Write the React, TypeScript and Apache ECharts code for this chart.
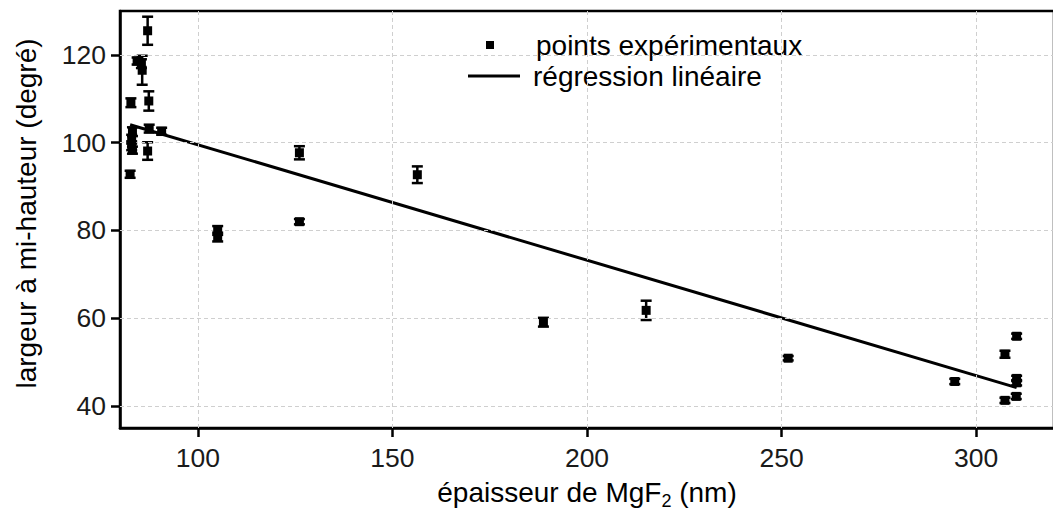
import React, { useEffect, useRef } from "react";
import * as echarts from "echarts";

// thickness of MgF2 (nm)
const thickness = [
  87.1, 84.4, 85.5, 85.7, 82.8, 87.4, 83.2, 83.0, 83.0, 83.2, 87.5, 90.7, 87.1, 82.6,
  105.1, 105.1, 126.1, 126.1, 156.4, 188.8, 215.2, 251.7,
  294.5, 307.4, 310.4, 310.4, 310.4, 307.4, 310.3,
];
// half-maximum width (degrees)
const halfWidth = [
  125.5, 118.6, 118.0, 116.5, 109.1, 109.5, 102.5, 100.8, 99.3, 98.3, 103.2, 102.6, 98.1, 92.8,
  80.0, 78.5, 97.7, 82.0, 92.7, 59.1, 61.8, 50.9,
  45.6, 51.8, 55.9, 46.3, 45.3, 41.3, 42.2,
];
// error (± degrees)
const errors = [
  3.2, 0.8, 1.0, 3.3, 1.0, 2.2, 1.0, 1.0, 1.0, 0.8, 0.9, 0.8, 2.0, 0.8,
  1.0, 1.0, 1.5, 0.6, 1.9, 1.0, 2.2, 0.5,
  0.6, 0.8, 0.6, 0.6, 0.6, 0.6, 0.6,
];
// linear regression endpoints
const regX = [82.6, 310.4];
const regY = [104.1, 44.2];

const xTicks = [100, 150, 200, 250, 300];
const yTicks = [40, 60, 80, 100, 120];

const FONT = "'Liberation Sans', Arial, Helvetica, sans-serif";
const FS = 26.5;
const FT = 28;

export default function App() {
  const ref = useRef<HTMLDivElement>(null);

  useEffect(() => {
    if (!ref.current) return;
    const chart = echarts.init(ref.current, undefined, { renderer: "svg" });

    const points = thickness.map((x, i) => [x, halfWidth[i]]);
    const bars = thickness.map((x, i) => [x, halfWidth[i] - errors[i], halfWidth[i] + errors[i]]);
    const reg = regX.map((x, i) => [x, regY[i]]);

    const gridLineStyle = { color: "#cfcfcf", type: [4, 3] as any, width: 1 };

    chart.setOption({
      animation: false,
      textStyle: { fontFamily: FONT },
      grid: {
        left: 120,
        top: 11,
        right: -1,
        bottom: 84,
        show: true,
        borderColor: "#000",
        borderWidth: 2.5,
        backgroundColor: "transparent",
        outerBoundsMode: "none",
        containLabel: false,
      },
      legend: [
        {
          data: [{ name: "points expérimentaux", icon: "rect" }],
          left: 481,
          top: 26,
          itemWidth: 8,
          itemHeight: 8,
          itemStyle: { opacity: 1, color: "#000" },
          textStyle: { fontSize: FT, color: "#000", fontFamily: FONT, padding: [0, 0, 0, 37] },
          selectedMode: false,
        },
        {
          data: [{ name: "régression linéaire", icon: "rect" }],
          left: 463,
          top: 57,
          itemWidth: 52,
          itemHeight: 3,
          itemStyle: { opacity: 1, color: "#000" },
          textStyle: { fontSize: FT, color: "#000", fontFamily: FONT, padding: [0, 0, 0, 8] },
          selectedMode: false,
        },
      ],
      xAxis: {
        type: "value",
        min: 80,
        max: 320,
        name: "{a|épaisseur de MgF}{s|2}{a| (nm)}",
        nameLocation: "middle",
        nameGap: 46,
        nameTextStyle: {
          rich: {
            a: { fontSize: FT, color: "#000", fontFamily: FONT },
            s: { fontSize: 18, color: "#000", fontFamily: FONT, verticalAlign: "bottom", padding: [18, 0, 0, 0] },
          },
        },
        axisLine: { show: true, lineStyle: { color: "#000", width: 2.5 } },
        axisTick: { show: true, length: 9, customValues: xTicks, lineStyle: { color: "#000", width: 2.5 } },
        axisLabel: { customValues: xTicks, fontSize: FS, color: "#1a1a1a", margin: 16, fontFamily: FONT },
        splitLine: { show: false },
      },
      yAxis: {
        type: "value",
        min: 35,
        max: 130,
        name: "largeur à mi-hauteur (degré)",
        nameLocation: "middle",
        nameGap: 80,
        nameTextStyle: { fontSize: FT, color: "#000", fontFamily: FONT, padding: [0, 0, 0, 12] },
        axisLine: { show: true, lineStyle: { color: "#000", width: 2.5 } },
        axisTick: { show: true, length: 9, customValues: yTicks, lineStyle: { color: "#000", width: 2.5 } },
        axisLabel: { customValues: yTicks, fontSize: FS, color: "#1a1a1a", margin: 14, fontFamily: FONT },
        splitLine: { show: false },
      },
      series: [
        {
          name: "grid",
          type: "scatter",
          data: [],
          silent: true,
          z: 0,
          markLine: {
            silent: true,
            symbol: "none",
            label: { show: false },
            lineStyle: gridLineStyle,
            data: [
              ...xTicks.map((v) => ({ xAxis: v })),
              ...yTicks.map((v) => ({ yAxis: v })),
            ],
          },
        },
        {
          name: "régression linéaire",
          type: "line",
          data: reg,
          symbol: "none",
          showSymbol: false,
          lineStyle: { color: "#000", width: 3 },
          itemStyle: { color: "#000" },
          z: 3,
        },
        {
          name: "errorbars",
          type: "custom",
          data: bars,
          encode: { x: 0, y: [1, 2] },
          z: 4,
          renderItem: (params: any, api: any) => {
            const x = api.value(0);
            const lo = api.coord([x, api.value(1)]);
            const hi = api.coord([x, api.value(2)]);
            const hw = 5.5;
            const style = { stroke: "#000", lineWidth: 2.5, fill: "none" };
            return {
              type: "group",
              children: [
                { type: "line", shape: { x1: lo[0], y1: lo[1], x2: hi[0], y2: hi[1] }, style },
                { type: "line", shape: { x1: lo[0] - hw, y1: lo[1], x2: lo[0] + hw, y2: lo[1] }, style },
                { type: "line", shape: { x1: hi[0] - hw, y1: hi[1], x2: hi[0] + hw, y2: hi[1] }, style },
              ],
            };
          },
        },
        {
          name: "points expérimentaux",
          type: "scatter",
          data: points,
          symbol: "rect",
          symbolSize: 9,
          itemStyle: { color: "#000", opacity: 1 },
          z: 5,
        },
      ],
    });

    return () => chart.dispose();
  }, []);

  return (
    <div
      ref={ref}
      style={{ position: "fixed", left: 0, top: 0, width: 1053, height: 512, background: "#fff" }}
    />
  );
}
